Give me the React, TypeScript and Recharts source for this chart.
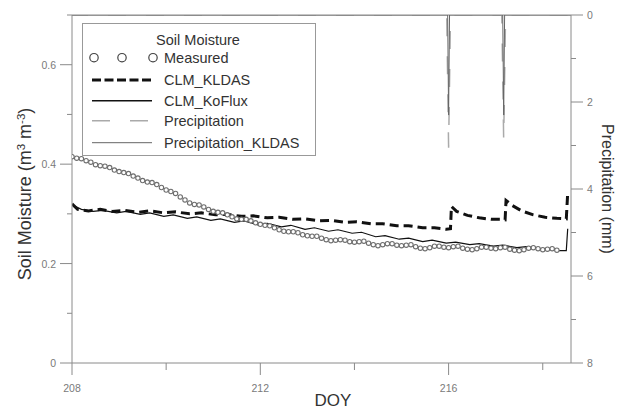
import React from 'react';
import { ComposedChart, Line, XAxis, YAxis, ReferenceLine } from 'recharts';

if (typeof document !== 'undefined') {
  document.body.style.margin = '0';
}

const AXIS = '#8a8a8a';
const TICK_TEXT = '#7a7a7a';
const FONT = '"Liberation Sans", Arial, sans-serif';

// Day-of-year tick values
const xTicks = [208, 210, 212, 214, 216, 218];
const xMajor = [208, 212, 216];
const leftTicks = [0, 0.1, 0.2, 0.3, 0.4, 0.5, 0.6, 0.7];
const leftMajor = [0, 0.2, 0.4, 0.6];
const rightTicks = [0, 1, 2, 3, 4, 5, 6, 7, 8];
const rightMajor = [0, 2, 4, 6, 8];

// Measured soil moisture (every 0.1 day from DOY 208.0)
const measuredStart = 208.0;
const measuredStep = 0.1;
const measuredValues = [
  0.415, 0.412, 0.411, 0.407, 0.404, 0.399, 0.397, 0.396, 0.393, 0.388,
  0.385, 0.383, 0.381, 0.376, 0.372, 0.367, 0.364, 0.363, 0.359, 0.353,
  0.348, 0.345, 0.341, 0.334, 0.328, 0.322, 0.319, 0.318, 0.314, 0.309,
  0.305, 0.303, 0.302, 0.298, 0.294, 0.290, 0.289, 0.289, 0.286, 0.282,
  0.279, 0.277, 0.276, 0.272, 0.268, 0.265, 0.264, 0.264, 0.262, 0.258,
  0.256, 0.255, 0.255, 0.251, 0.248, 0.246, 0.247, 0.248, 0.247, 0.244,
  0.243, 0.244, 0.245, 0.241, 0.238, 0.236, 0.238, 0.240, 0.240, 0.237,
  0.236, 0.237, 0.238, 0.234, 0.231, 0.230, 0.232, 0.235, 0.235, 0.233,
  0.232, 0.234, 0.235, 0.231, 0.229, 0.228, 0.230, 0.233, 0.233, 0.231,
  0.230, 0.232, 0.233, 0.229, 0.227, 0.226, 0.228, 0.231, 0.232, 0.230,
  0.228, 0.229, 0.230, 0.227,
];

// CLM_KLDAS
const kldasDoy = [
  208.0, 208.12, 208.35, 208.6, 208.85, 209.1, 209.4, 209.65, 209.95, 210.2,
  210.5, 210.75, 211.05, 211.3, 211.6, 211.85, 212.15, 212.4, 212.7, 212.95,
  213.25, 213.5, 213.8, 214.05, 214.35, 214.6, 214.9, 215.15, 215.45, 215.7,
  215.95, 216.04, 216.06, 216.17, 216.4, 216.65, 216.9, 217.1, 217.2, 217.22,
  217.35, 217.55, 217.8, 218.05, 218.3, 218.5, 218.53,
];
const kldasValues = [
  0.320, 0.309, 0.306, 0.309, 0.305, 0.307, 0.303, 0.306, 0.302, 0.304,
  0.300, 0.302, 0.298, 0.299, 0.295, 0.296, 0.292, 0.293, 0.289, 0.290,
  0.286, 0.287, 0.283, 0.284, 0.280, 0.280, 0.276, 0.276, 0.272, 0.272,
  0.269, 0.270, 0.315, 0.305, 0.297, 0.292, 0.289, 0.289, 0.288, 0.327,
  0.317, 0.306, 0.298, 0.293, 0.291, 0.290, 0.342,
];

// CLM_KoFlux
const kofluxDoy = [
  208.0, 208.2, 208.45, 208.65, 208.95, 209.15, 209.45, 209.65, 209.95, 210.15,
  210.45, 210.65, 210.95, 211.15, 211.45, 211.65, 211.95, 212.15, 212.45, 212.65,
  212.95, 213.15, 213.45, 213.65, 213.95, 214.15, 214.45, 214.65, 214.95, 215.15,
  215.45, 215.65, 215.95, 216.15, 216.45, 216.65, 216.95, 217.15, 217.45, 217.65,
  217.95, 218.15, 218.35, 218.5, 218.53,
];
const kofluxValues = [
  0.318, 0.309, 0.305, 0.307, 0.302, 0.305, 0.299, 0.302, 0.295, 0.298,
  0.291, 0.294, 0.287, 0.290, 0.283, 0.286, 0.278, 0.281, 0.274, 0.277,
  0.269, 0.272, 0.265, 0.268, 0.261, 0.263, 0.254, 0.256, 0.249, 0.251,
  0.244, 0.247, 0.241, 0.243, 0.238, 0.240, 0.235, 0.237, 0.232, 0.234,
  0.229, 0.229, 0.226, 0.226, 0.270,
];

// Precipitation (mm)
const precipDoy = [208.0, 215.96, 216.0, 216.04, 217.13, 217.17, 217.21, 218.6];
const precipValues = [0, 0, 3.05, 0, 0, 2.88, 0, 0];
// Precipitation_KLDAS (mm)
const precipKldasDoy = [208.0, 215.98, 216.0, 216.02, 217.15, 217.17, 217.19, 218.6];
const precipKldasValues = [0, 0, 2.3, 0, 0, 2.3, 0, 0];

const measuredData = measuredValues.map((v, i) => ({ doy: measuredStart + i * measuredStep, v }));
const kldasData = kldasDoy.map((d, i) => ({ doy: d, v: kldasValues[i] }));
const kofluxData = kofluxDoy.map((d, i) => ({ doy: d, v: kofluxValues[i] }));
const precipData = precipDoy.map((d, i) => ({ doy: d, v: precipValues[i] }));
const precipKldasData = precipKldasDoy.map((d, i) => ({ doy: d, v: precipKldasValues[i] }));

const isIn = (arr: number[], v: number) => arr.some((m) => Math.abs(m - v) < 1e-6);

const XTick = (props: any) => {
  const { x, y, payload } = props;
  const major = isIn(xMajor, payload.value);
  return (
    <g>
      <line x1={x} x2={x} y1={y} y2={y + (major ? 12 : 7)} stroke={AXIS} strokeWidth={1} />
      {major && (
        <text x={x} y={y + 29} textAnchor="middle" fontSize={10.5} fill={TICK_TEXT} fontFamily={FONT}>
          {payload.value}
        </text>
      )}
    </g>
  );
};

const LeftTick = (props: any) => {
  const { x, y, payload } = props;
  const major = isIn(leftMajor, payload.value);
  return (
    <g>
      <line x1={x} x2={x - (major ? 12 : 5)} y1={y} y2={y} stroke={AXIS} strokeWidth={1} />
      {major && (
        <text x={x - 16} y={y + 4} textAnchor="end" fontSize={10.5} fill={TICK_TEXT} fontFamily={FONT}>
          {String(Math.round(payload.value * 10) / 10)}
        </text>
      )}
    </g>
  );
};

const RightTick = (props: any) => {
  const { x, y, payload } = props;
  const major = isIn(rightMajor, payload.value);
  return (
    <g>
      <line x1={x} x2={x + (major ? 12 : 5)} y1={y} y2={y} stroke={AXIS} strokeWidth={1} />
      {major && (
        <text x={x + 16} y={y + 4} textAnchor="start" fontSize={10.5} fill={TICK_TEXT} fontFamily={FONT}>
          {payload.value}
        </text>
      )}
    </g>
  );
};

const MeasuredDot = (props: any) => {
  const { cx, cy, index } = props;
  if (cx == null || cy == null) return <g key={index} />;
  return <circle key={index} cx={cx} cy={cy} r={2.2} fill="#ffffff" stroke="#6e6e6e" strokeWidth={1.1} />;
};

const Overlay = () => {
  const tx = 164;
  const rows = [62.7, 85, 105.7, 125.7, 147.7];
  const sy = rows.map((r) => r - 5);
  return (
    <svg
      width={617}
      height={412}
      style={{ position: 'absolute', left: 0, top: 0, pointerEvents: 'none' }}
      fontFamily={FONT}
    >
      {/* Legend */}
      <rect x={82.5} y={23.5} width={233} height={132} fill="#ffffff" stroke="#999999" strokeWidth={1} />
      <text x={198} y={45} textAnchor="middle" fontSize={14.5} fill="#333">Soil Moisture</text>
      <circle cx={94} cy={sy[0]} r={4.2} fill="#fff" stroke="#444" strokeWidth={1.2} />
      <circle cx={122} cy={sy[0]} r={4.2} fill="#fff" stroke="#444" strokeWidth={1.2} />
      <circle cx={153} cy={sy[0]} r={4.2} fill="#fff" stroke="#444" strokeWidth={1.2} />
      <text x={tx} y={rows[0]} fontSize={14.5} fill="#333">Measured</text>
      <line x1={92} x2={152} y1={sy[1]} y2={sy[1]} stroke="#111" strokeWidth={3} strokeDasharray="9 3.5" />
      <text x={tx} y={rows[1]} fontSize={14.5} fill="#333">CLM_KLDAS</text>
      <line x1={92} x2={152} y1={sy[2]} y2={sy[2]} stroke="#111" strokeWidth={1.5} />
      <text x={tx} y={rows[2]} fontSize={14.5} fill="#333">CLM_KoFlux</text>
      <line x1={92} x2={152} y1={sy[3]} y2={sy[3]} stroke="#aaa" strokeWidth={1.5} strokeDasharray="18 20" />
      <text x={tx} y={rows[3]} fontSize={14.5} fill="#333">Precipitation</text>
      <line x1={92} x2={152} y1={sy[4]} y2={sy[4]} stroke="#666" strokeWidth={1} />
      <text x={tx} y={rows[4]} fontSize={14.5} fill="#333">Precipitation_KLDAS</text>

      {/* Axis titles */}
      <text
        transform="translate(31,194) rotate(-90)"
        textAnchor="middle"
        fontSize={18}
        fill="#333"
      >
        Soil Moisture (m<tspan dy={-6} fontSize={11.5}>3</tspan>
        <tspan dy={6}> m</tspan>
        <tspan dy={-6} fontSize={11.5}>-3</tspan>
        <tspan dy={6}>)</tspan>
      </text>
      <text
        transform="translate(601.5,189) rotate(90)"
        textAnchor="middle"
        fontSize={16}
        fill="#333"
      >
        Precipitation (mm)
      </text>
      <text x={333} y={406} textAnchor="middle" fontSize={17} fill="#333">DOY</text>
    </svg>
  );
};

export default function App() {
  return (
    <div style={{ position: 'relative', width: 617, height: 412, background: '#fff', overflow: 'hidden' }}>
      <ComposedChart
        width={617}
        height={412}
        margin={{ top: 15, right: 6, bottom: 9, left: 22 }}
      >
        <XAxis
          type="number"
          dataKey="doy"
          domain={[208, 218.6]}
          ticks={xTicks}
          interval={0}
          allowDataOverflow
          tick={<XTick />}
          tickLine={false}
          tickSize={0}
          tickMargin={0}
          stroke={AXIS}
          height={40}
        />
        <YAxis
          yAxisId="left"
          type="number"
          domain={[0, 0.7]}
          ticks={leftTicks}
          interval={0}
          allowDataOverflow
          tick={<LeftTick />}
          tickLine={false}
          tickSize={0}
          tickMargin={0}
          stroke={AXIS}
          width={50}
        />
        <YAxis
          yAxisId="right"
          orientation="right"
          type="number"
          domain={[0, 8]}
          reversed
          ticks={rightTicks}
          interval={0}
          allowDataOverflow
          tick={<RightTick />}
          tickLine={false}
          tickSize={0}
          tickMargin={0}
          stroke={AXIS}
          width={40}
        />
        <ReferenceLine yAxisId="left" y={0.7} stroke={AXIS} strokeWidth={1} />
        <Line
          yAxisId="left"
          data={measuredData}
          dataKey="v"
          type="linear"
          stroke="none"
          dot={<MeasuredDot />}
          activeDot={false}
          isAnimationActive={false}
        />
        <Line
          yAxisId="left"
          data={kofluxData}
          dataKey="v"
          type="linear"
          stroke="#111"
          strokeWidth={1.2}
          dot={false}
          activeDot={false}
          isAnimationActive={false}
        />
        <Line
          yAxisId="left"
          data={kldasData}
          dataKey="v"
          type="linear"
          stroke="#111"
          strokeWidth={3}
          strokeDasharray="9 5"
          dot={false}
          activeDot={false}
          isAnimationActive={false}
        />
        <Line
          yAxisId="right"
          data={precipData}
          dataKey="v"
          type="linear"
          stroke="#aaa"
          strokeWidth={1.5}
          strokeDasharray="18 20"
          strokeDashoffset={2}
          dot={false}
          activeDot={false}
          isAnimationActive={false}
        />
        <Line
          yAxisId="right"
          data={precipKldasData}
          dataKey="v"
          type="linear"
          stroke="#666"
          strokeWidth={1}
          dot={false}
          activeDot={false}
          isAnimationActive={false}
        />
      </ComposedChart>
      <Overlay />
    </div>
  );
}
